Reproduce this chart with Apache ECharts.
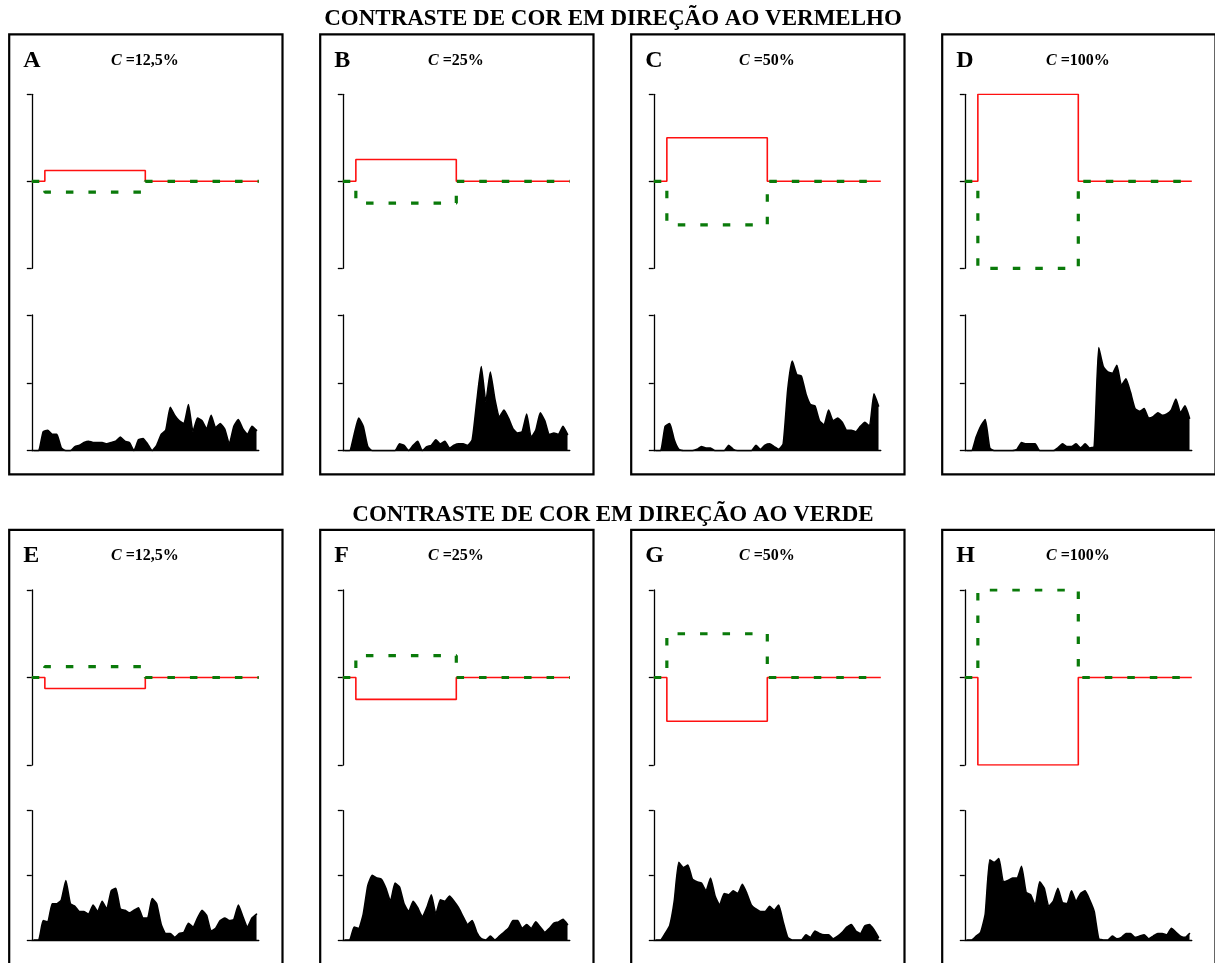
<!DOCTYPE html>
<html><head><meta charset="utf-8">
<script src="https://cdn.jsdelivr.net/npm/echarts@6/dist/echarts.min.js"></script>
<style>html,body{margin:0;padding:0;background:#fff}#c{width:1215px;height:963px}</style>
</head><body><div id="c"></div>
<script>
// ---------- data ----------
const rowTitles = ['CONTRASTE DE COR EM DIREÇÃO AO VERMELHO', 'CONTRASTE DE COR EM DIREÇÃO AO VERDE'];
const panelLetters = ['A','B','C','D','E','F','G','H'];
const contrastLabels = ['12,5%','25%','50%','100%','12,5%','25%','50%','100%'];
const contrastValues = [12.5, 25, 50, 100, 12.5, 25, 50, 100];
const redSign = [1,1,1,1,-1,-1,-1,-1];   // red trace direction per panel
const stimOn = 115, stimOff = 1000, tEnd = 2000;  // ms
const binWidth = 40; // ms

// spike histograms (spikes/s, 40 ms bins)
const histA = [0,0,14,15,12,12,2,0,0,3,4,6,7,6,6,6,5,6,7,10,7,6,0,8,9,5,0,4,12,15,32,26,22,20,34,14,24,22,16,26,17,20,16,5,18,23,16,12,18,15];
const histB = [0,0,12,24,18,3,0,0,0,0,0,0,5,4,0,4,7,0,3,4,8,5,7,2,4,5,5,4,8,36,62,36,58,38,25,30,24,16,13,14,27,10,15,28,22,12,13,12,18,12];
const histC = [0,0,18,20,8,1,0,0,0,1,3,2,2,0,0,0,4,1,0,0,0,0,4,1,4,5,3,1,5,45,66,56,55,42,34,33,22,19,30,22,24,21,15,15,14,18,21,18,42,33];
const histD = [0,0,10,18,23,2,0,0,0,0,0,1,6,5,5,5,0,0,0,0,2,5,3,3,5,2,5,2,3,76,62,58,57,63,48,53,43,31,29,31,24,25,28,26,27,30,38,28,33,24];
const histE = [0,0,15,14,28,28,31,46,28,26,22,22,20,27,22,30,24,38,40,24,23,21,23,25,17,17,32,28,12,5,5,2,5,6,13,10,17,23,19,7,9,15,17,15,16,27,18,10,17,20];
const histF = [0,0,10,9,20,42,50,48,47,40,30,44,41,28,22,30,25,18,25,35,20,31,30,34,30,25,18,12,15,6,1,0,3,0,3,6,9,15,15,9,12,9,14,10,6,9,13,14,16,12];
const histG = [0,0,5,11,30,60,56,58,47,45,44,38,48,34,27,36,35,38,36,43,36,27,24,22,22,26,23,27,14,2,0,0,0,4,2,7,5,4,4,1,3,6,10,12,7,5,11,12,8,2];
const histH = [0,0,3,6,20,62,60,63,45,46,48,48,57,37,35,27,45,40,26,30,40,29,28,38,30,36,38,31,22,1,0,0,3,1,2,5,5,2,3,4,1,3,5,5,4,9,6,3,2,5];
const histograms = [histA, histB, histC, histD, histE, histF, histG, histH];

// ---------- layout ----------
const panelDX = 311;
const boxLeft0 = 9.2, boxW = 273.3, boxH = 440;
const rowBoxTop = [34.3, 529.8];
const axisLeft0 = 31.8, plotW = 227;
const stimTopY = [94.3, 590], stimHeight = [174, 175];
const histTopY = [315, 810.7], histHeight = [135.7, 129.3];
const labelY = [61, 556];
const titleY = [19, 515];

const RED = '#ff1010', GREEN = '#0a7a0a';
const axisStyle = {color:'#000', width:1.3};

const grids = [], xAxes = [], yAxes = [], series = [], graphics = [];

rowTitles.forEach((t, r) => {
  graphics.push({type:'text', style:{x:613, y:titleY[r], text:t, fontFamily:'Liberation Serif', fontWeight:'bold', fontSize:23, fill:'#000', textAlign:'center', textVerticalAlign:'middle', align:'center', verticalAlign:'middle'}});
});

for (let p = 0; p < 8; p++) {
  const r = Math.floor(p / 4), col = p % 4;
  const bx = boxLeft0 + col * panelDX;
  const ax = axisLeft0 + col * panelDX;
  graphics.push({type:'rect', shape:{x:bx, y:rowBoxTop[r], width:boxW, height:boxH}, style:{fill:'none', stroke:'#000', lineWidth:2.2}});
  graphics.push({type:'text', style:{x:bx+14, y:labelY[r], text:panelLetters[p], fontFamily:'Liberation Serif', fontWeight:'bold', fontSize:24, fill:'#000', textAlign:'left', textVerticalAlign:'middle', align:'left', verticalAlign:'middle'}});
  graphics.push({type:'text', style:{x:bx+boxW/2-1, y:labelY[r], text:'{i|C} =' + contrastLabels[p], fontFamily:'Liberation Serif', fontWeight:'bold', fontSize:16, fill:'#000', textAlign:'center', textVerticalAlign:'middle', align:'center', verticalAlign:'middle',
    rich:{i:{fontFamily:'Liberation Serif', fontWeight:'bold', fontStyle:'italic', fontSize:16, fill:'#000'}}}});

  // stimulus grid
  const gS = grids.length;
  grids.push({left:ax, top:stimTopY[r], width:plotW, height:stimHeight[r]});
  xAxes.push({gridIndex:gS, type:'value', min:0, max:tEnd, show:false});
  yAxes.push({gridIndex:gS, type:'value', min:-100, max:100, interval:100,
    axisLine:{show:true, lineStyle:axisStyle}, axisTick:{show:true, inside:false, length:5, lineStyle:axisStyle},
    axisLabel:{show:false}, splitLine:{show:false}});
  const c = contrastValues[p];
  const step = s => [[0,0],[stimOn,0],[stimOn,s*c],[stimOff,s*c],[stimOff,0],[tEnd,0]];
  series.push({type:'line', xAxisIndex:gS, yAxisIndex:gS, data:step(redSign[p]), symbol:'none', silent:true,
    lineStyle:{color:RED, width:1.6}, z:2});
  series.push({type:'line', xAxisIndex:gS, yAxisIndex:gS, data:step(-redSign[p]), symbol:'none', silent:true,
    lineStyle:{color:GREEN, width:3.2, type:[7.5,15]}, z:3});

  // histogram grid
  const gH = grids.length;
  grids.push({left:ax, top:histTopY[r], width:plotW, height:histHeight[r]});
  xAxes.push({gridIndex:gH, type:'value', min:0, max:tEnd,
    axisLine:{show:true, onZero:false, lineStyle:axisStyle}, axisTick:{show:false}, axisLabel:{show:false}, splitLine:{show:false}});
  yAxes.push({gridIndex:gH, type:'value', min:0, max:100, interval:50,
    axisLine:{show:true, lineStyle:axisStyle}, axisTick:{show:true, inside:false, length:5, lineStyle:axisStyle},
    axisLabel:{show:false}, splitLine:{show:false}});
  series.push({type:'line', xAxisIndex:gH, yAxisIndex:gH, symbol:'none', silent:true, smooth:0.15,
    data:histograms[p].map((v,i) => [i*binWidth + binWidth/2, v]),
    lineStyle:{color:'#000', width:1.6, join:'round', cap:'round'}, areaStyle:{color:'#000', opacity:1}});
}

const chart = echarts.init(document.getElementById('c'), null, {renderer:'canvas'});
chart.setOption({animation:false, backgroundColor:'#fff', grid:grids, xAxis:xAxes, yAxis:yAxes, series:series, graphic:graphics});
</script></body></html>
